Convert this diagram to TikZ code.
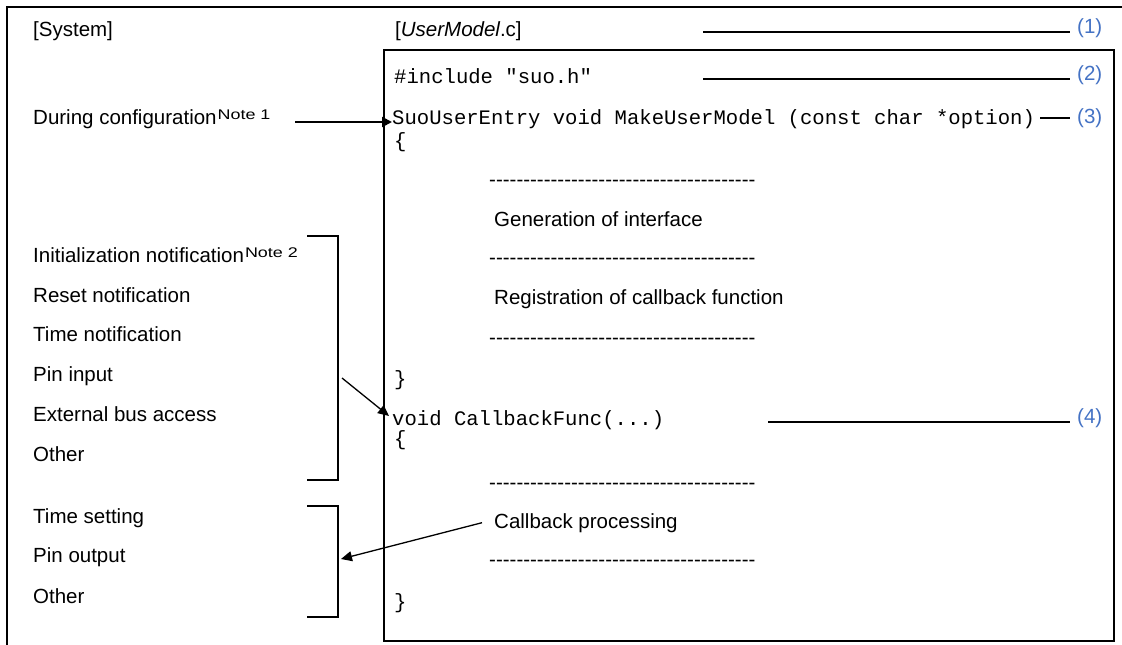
\documentclass[tikz,border=0pt]{standalone}
\usepackage{fontspec}
\setmainfont{Liberation Sans}
\setmonofont{Liberation Mono}
\usetikzlibrary{arrows.meta,calc}
\definecolor{numblue}{RGB}{68,114,196}
\newcommand\mydashline{\foreach \k in {1,...,39}{-\kern0pt}}
\newcommand\mynote[1]{\kern1pt\raisebox{5pt}{\scalebox{1.28}[1]{\fontsize{14}{14}\selectfont #1}}}
\begin{document}
\begin{tikzpicture}[x=1pt,y=-1pt,
  txt/.style={anchor=base west,inner sep=0pt,font=\fontsize{20.5}{24}\selectfont},
  code/.style={anchor=base west,inner sep=0pt,font=\ttfamily\fontsize{20.6}{24}\selectfont},
  num/.style={anchor=base west,inner sep=0pt,text=numblue,font=\fontsize{20.5}{24}\selectfont},
  frame/.style={line width=2.6pt},
  lead/.style={line width=2.4pt},
  brk/.style={line width=2.2pt},
  arrbig/.style={line width=2.2pt,-{Triangle[length=10pt,width=10pt]}},
  arrthin/.style={line width=1.3pt,-{Triangle[length=11pt,width=10pt]}},
]
\useasboundingbox (0,0) rectangle (1122,645);
% frames
\draw[frame] (1122,7) -- (7,7) -- (7,645);
\draw[frame] (384,50) rectangle (1114,641);
% headers
\node[txt] (sys) at (33,36) {[System]};
\node[txt] (um) at (395,36) {[\textit{UserModel}.c]};
% numbered labels
\node[num] (n1) at (1077,33) {(1)};
\node[num] (n2) at (1077,80) {(2)};
\node[num] (n3) at (1077,123) {(3)};
\node[num] (n4) at (1077,423) {(4)};
\coordinate (a1) at (703,32);
\coordinate (a2) at (703,79);
\coordinate (a3) at (1040,118);
\coordinate (a4) at (768,422);
\draw[lead] (a1) -- ([xshift=-7pt]a1 -| n1.west);
\draw[lead] (a2) -- ([xshift=-7pt]a2 -| n2.west);
\draw[lead] (a3) -- ([xshift=-7pt]a3 -| n3.west);
\draw[lead] (a4) -- ([xshift=-7pt]a4 -| n4.west);
% code
\node[code] (inc) at (394,83) {\#include "suo.h"};
\node[code] (entry) at (392,124) {SuoUserEntry void MakeUserModel (const char *option)};
\node[code] (ob1) at (394,147) {\{};
\node[txt] (d1) at (489,186.5) {\mydashline};
\node[txt] (gen) at (494,226) {Generation of interface};
\node[txt] (d2) at (489,264.5) {\mydashline};
\node[txt] (reg) at (494,304) {Registration of callback function};
\node[txt] (d3) at (489,344.5) {\mydashline};
\node[code] (cb1) at (394,385) {\}};
\node[code] (cbf) at (392,425) {void CallbackFunc(...)};
\node[code] (ob2) at (394,445) {\{};
\node[txt] (e1) at (489,489) {\mydashline};
\node[txt] (cbp) at (494,528) {Callback processing};
\node[txt] (e2) at (489,566.5) {\mydashline};
\node[code] (cb2) at (394,608) {\}};
% system side
\node[txt] (conf) at (33,124) {During configuration\mynote{Note 1}};
\node[txt] (i1) at (33,262) {Initialization notification\mynote{Note 2}};
\node[txt] (i2) at (33,302) {Reset notification};
\node[txt] (i3) at (33,341) {Time notification};
\node[txt] (i4) at (33,381) {Pin input};
\node[txt] (i5) at (33,421) {External bus access};
\node[txt] (i6) at (33,461) {Other};
\node[txt] (o1) at (33,523) {Time setting};
\node[txt] (o2) at (33,562) {Pin output};
\node[txt] (o3) at (33,603) {Other};
% brackets
\draw[brk] (307,236) -| (338,480) -- (307,480);
\draw[brk] (307,506) -| (338,617) -- (307,617);
% arrows
\coordinate (ca) at (295,122);
\draw[arrbig] (ca) -- (ca -| entry.west);
\coordinate (cbs) at (342,378);
\coordinate (cbt) at (389,416);
\draw[arrthin] (cbs) -- (cbt);
\coordinate (ret) at (341,559);
\draw[arrthin] ([xshift=-12pt]cbp.west) -- (ret);
\end{tikzpicture}
\end{document}
